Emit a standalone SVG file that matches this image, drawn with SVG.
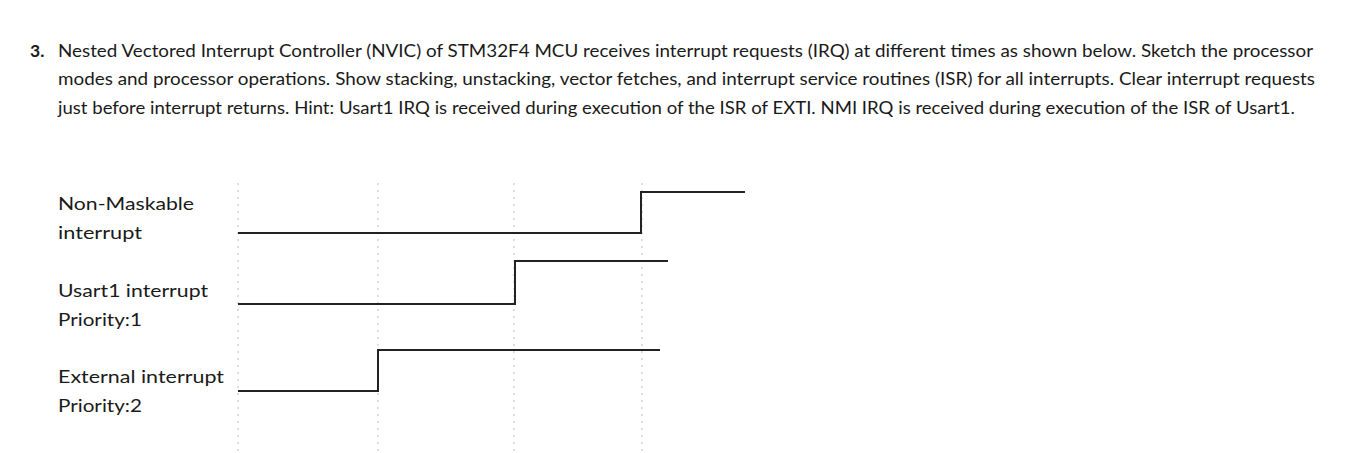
<svg xmlns="http://www.w3.org/2000/svg" width="1351" height="453" viewBox="0 0 1351 453">
<style>
text{font-family:Lato,"Open Sans",sans-serif;font-size:17.5px;fill:#1a1a1a}
.lbl{font-size:18px}
.sig{fill:none;stroke:#222;stroke-width:2}
.grid{stroke:#bbb;stroke-width:1;stroke-dasharray:2,5}
</style>
<rect width="1351" height="453" fill="#fff"/>
<g id="question">
<text x="30" y="57" font-weight="bold">3.</text>
<text x="58" y="57" textLength="1255" lengthAdjust="spacingAndGlyphs">Nested Vectored Interrupt Controller (NVIC) of STM32F4 MCU receives interrupt requests (IRQ) at different times as shown below. Sketch the processor</text>
<text x="58" y="85" textLength="1257" lengthAdjust="spacingAndGlyphs">modes and processor operations. Show stacking, unstacking, vector fetches, and interrupt service routines (ISR) for all interrupts. Clear interrupt requests</text>
<text x="58" y="114" textLength="1237" lengthAdjust="spacingAndGlyphs">just before interrupt returns. Hint: Usart1 IRQ is received during execution of the ISR of EXTI.  NMI IRQ is received during execution of the ISR of Usart1.</text>
</g>
<g id="labels">
<text class="lbl" x="58" y="210" textLength="136" lengthAdjust="spacingAndGlyphs">Non-Maskable</text>
<text class="lbl" x="58" y="239" textLength="84" lengthAdjust="spacingAndGlyphs">interrupt</text>
<text class="lbl" x="58" y="297" textLength="150" lengthAdjust="spacingAndGlyphs">Usart1 interrupt</text>
<text class="lbl" x="58" y="326" textLength="84" lengthAdjust="spacingAndGlyphs">Priority:1</text>
<text class="lbl" x="58" y="383" textLength="166" lengthAdjust="spacingAndGlyphs">External interrupt</text>
<text class="lbl" x="58" y="412" textLength="84" lengthAdjust="spacingAndGlyphs">Priority:2</text>
</g>
<g id="grid">
<line class="grid" x1="238" y1="183" x2="238" y2="453"/>
<line class="grid" x1="378" y1="183" x2="378" y2="453"/>
<line class="grid" x1="514" y1="183" x2="514" y2="453"/>
<line class="grid" x1="642" y1="183" x2="642" y2="453"/>
</g>
<g id="connectors">
<polyline id="nmi" class="sig" points="238,233 641,233 641,192 745,192"/>
<polyline id="usart1" class="sig" points="238,304 515,304 515,261 668,261"/>
<polyline id="exti" class="sig" points="238,391 378,391 378,350 660,350"/>
</g>
</svg>
